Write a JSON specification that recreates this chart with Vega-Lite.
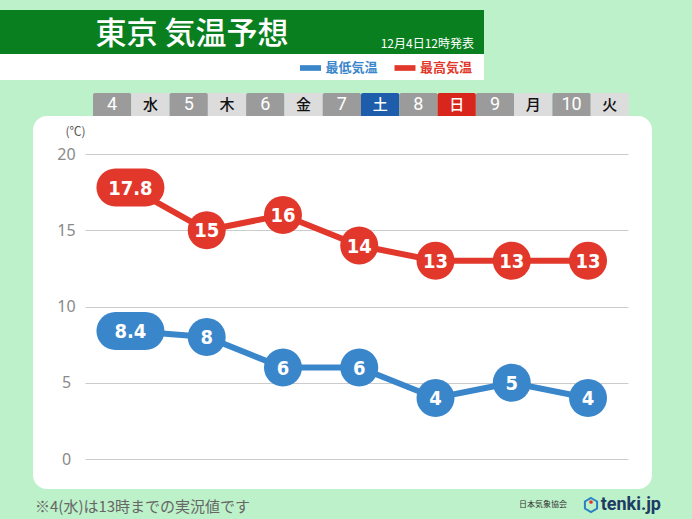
{
  "$schema": "https://vega.github.io/schema/vega-lite/v6.json",
  "background": "#bdf1c9",
  "padding": {"left": 0, "top": 10, "right": 31, "bottom": 0},
  "spacing": 13,
  "config": {"view": {"stroke": null}, "font": "Noto Sans CJK JP"},
  "datasets": {
    "forecast": [
      {"日付": 4, "曜日": "水", "種別": "最高気温", "気温": 17.8, "区分": "実況"},
      {"日付": 5, "曜日": "木", "種別": "最高気温", "気温": 15, "区分": "予想"},
      {"日付": 6, "曜日": "金", "種別": "最高気温", "気温": 16, "区分": "予想"},
      {"日付": 7, "曜日": "土", "種別": "最高気温", "気温": 14, "区分": "予想"},
      {"日付": 8, "曜日": "日", "種別": "最高気温", "気温": 13, "区分": "予想"},
      {"日付": 9, "曜日": "月", "種別": "最高気温", "気温": 13, "区分": "予想"},
      {"日付": 10, "曜日": "火", "種別": "最高気温", "気温": 13, "区分": "予想"},
      {"日付": 4, "曜日": "水", "種別": "最低気温", "気温": 8.4, "区分": "実況"},
      {"日付": 5, "曜日": "木", "種別": "最低気温", "気温": 8, "区分": "予想"},
      {"日付": 6, "曜日": "金", "種別": "最低気温", "気温": 6, "区分": "予想"},
      {"日付": 7, "曜日": "土", "種別": "最低気温", "気温": 6, "区分": "予想"},
      {"日付": 8, "曜日": "日", "種別": "最低気温", "気温": 4, "区分": "予想"},
      {"日付": 9, "曜日": "月", "種別": "最低気温", "気温": 5, "区分": "予想"},
      {"日付": 10, "曜日": "火", "種別": "最低気温", "気温": 4, "区分": "予想"}
    ],
    "days": [
      {"表示": "4", "種類": "日付"}, {"表示": "水", "種類": "平日"},
      {"表示": "5", "種類": "日付"}, {"表示": "木", "種類": "平日"},
      {"表示": "6", "種類": "日付"}, {"表示": "金", "種類": "平日"},
      {"表示": "7", "種類": "日付"}, {"表示": "土", "種類": "土曜"},
      {"表示": "8", "種類": "日付"}, {"表示": "日", "種類": "日曜"},
      {"表示": "9", "種類": "日付"}, {"表示": "月", "種類": "平日"},
      {"表示": "10", "種類": "日付"}, {"表示": "火", "種類": "平日"}
    ],
    "legendItems": [{"種別": "最低気温"}, {"種別": "最高気温"}]
  },
  "vconcat": [
    {
      "spacing": 0,
      "vconcat": [
        {
          "width": 484,
          "height": 44,
          "view": {"fill": "#0a7f20", "stroke": null},
          "layer": [
            {
              "data": {"values": [{"題": "東京 気温予想"}]},
              "mark": {"type": "text", "color": "white", "fontSize": 31, "fontWeight": 500, "align": "center", "baseline": "middle", "dx": -50, "dy": 3},
              "encoding": {"text": {"field": "題"}}
            },
            {
              "data": {"values": [{"発表": "12月4日12時発表"}]},
              "mark": {"type": "text", "color": "white", "fontSize": 12, "align": "right", "baseline": "middle", "dx": 232, "dy": 12},
              "encoding": {"text": {"field": "発表"}}
            }
          ]
        },
        {
          "width": 484,
          "height": 26,
          "view": {"fill": "white", "stroke": null},
          "data": {"name": "legendItems"},
          "encoding": {
            "x": {"field": "種別", "type": "nominal", "sort": null, "axis": null, "scale": {"type": "point", "domain": ["最低気温", "最高気温"], "range": [310.5, 405], "padding": 0}},
            "color": {"field": "種別", "type": "nominal", "legend": null, "scale": {"domain": ["最低気温", "最高気温"], "range": ["#3a86cb", "#e2382c"]}}
          },
          "layer": [
            {"mark": {"type": "point", "shape": "M-1,-0.27H1V0.27H-1Z", "size": 441, "filled": true, "opacity": 1, "yOffset": 1}},
            {"mark": {"type": "text", "align": "left", "baseline": "middle", "dx": 15, "dy": 1, "fontSize": 13, "fontWeight": "bold"}, "encoding": {"text": {"field": "種別"}}}
          ]
        }
      ]
    },
    {
      "spacing": 32,
      "hconcat": [
        {"width": 1, "height": 1, "data": {"values": []}, "mark": "point"},
        {
          "spacing": 0,
          "vconcat": [
            {
              "width": 596,
              "height": 23,
              "data": {"name": "days"},
              "encoding": {
                "x": {"field": "表示", "type": "nominal", "axis": null, "scale": {"type": "band", "domain": ["4", "水", "5", "木", "6", "金", "7", "土", "8", "日", "9", "月", "10", "火"], "range": [60, 596], "paddingInner": 0, "paddingOuter": 0}}
              },
              "layer": [
                {"mark": {"type": "rect", "cornerRadiusTopLeft": 2, "cornerRadiusTopRight": 2}, "encoding": {"fill": {"field": "種類", "type": "nominal", "legend": null, "scale": {"domain": ["日付", "平日", "土曜", "日曜"], "range": ["#9b9b9b", "#dcdcdc", "#1d5dab", "#d8261c"]}}}},
                {"transform": [{"filter": "datum['種類'] === '日付'"}], "mark": {"type": "text", "font": "Roboto", "fontSize": 18, "color": "white", "baseline": "middle"}, "encoding": {"text": {"field": "表示"}}},
                {"transform": [{"filter": "datum['種類'] !== '日付'"}], "mark": {"type": "text", "fontSize": 15, "fontWeight": 500, "baseline": "middle"}, "encoding": {"text": {"field": "表示"}, "color": {"condition": {"test": "datum['種類'] === '平日'", "value": "#111111"}, "value": "white"}}}
              ]
            },
            {
              "width": 619,
              "height": 373,
              "view": {"fill": "white", "stroke": null, "cornerRadius": 14},
              "data": {"name": "forecast"},
              "encoding": {
                "x": {"field": "日付", "type": "ordinal", "axis": null, "scale": {"type": "point", "range": [52, 595], "padding": 0.56, "align": 0.532}},
                "y": {
                  "field": "気温", "type": "quantitative",
                  "scale": {"domain": [0, 20], "range": [343, 38], "nice": false, "zero": false},
                  "axis": {"values": [0, 5, 10, 15, 20], "offset": -52, "labelPadding": 19, "labelAlign": "center", "ticks": false, "domain": false, "grid": true, "gridColor": "#cccccc", "labelFontSize": 16, "labelColor": "#8a8a8a", "labelFont": "Noto Sans", "title": "(℃)", "titleAngle": 0, "titleX": -10, "titleY": 15, "titleAlign": "center", "titleBaseline": "middle", "titleFontSize": 12, "titleFontWeight": "normal", "titleColor": "#555555", "titleFont": "Noto Sans CJK JP"}
                },
                "color": {"field": "種別", "type": "nominal", "legend": null, "scale": {"domain": ["最低気温", "最高気温"], "range": ["#3a86cb", "#e2382c"]}}
              },
              "layer": [
                {"mark": {"type": "line", "strokeWidth": 6}},
                {"mark": {"type": "point", "filled": true, "opacity": 1, "size": 1444}, "encoding": {"shape": {"field": "区分", "type": "nominal", "legend": null, "scale": {"domain": ["実況", "予想"], "range": ["M-0.79,-1L0.79,-1A1,1,0,0,1,0.79,1L-0.79,1A1,1,0,0,1,-0.79,-1Z", "M1,0A1,1,0,1,1,-1,0A1,1,0,1,1,1,0Z"]}}}},
                {"mark": {"type": "text", "fontSize": 20, "fontWeight": "bold", "font": "Liberation Sans Narrow, DejaVu Sans Condensed, Roboto", "baseline": "middle", "dy": 1}, "encoding": {"text": {"field": "気温", "type": "quantitative", "format": ".1~f"}, "color": {"value": "white"}}}
              ]
            },
            {
              "width": 628,
              "height": 30,
              "layer": [
                {"data": {"values": [{"注記": "※4(水)は13時までの実況値です"}]}, "mark": {"type": "text", "align": "left", "baseline": "middle", "dx": -312, "dy": 3, "fontSize": 15, "color": "#666666"}, "encoding": {"text": {"field": "注記"}}},
                {"data": {"values": [{"提供": "日本気象協会"}]}, "mark": {"type": "text", "align": "right", "baseline": "middle", "dx": 220, "dy": 1, "fontSize": 8, "color": "#333333"}, "encoding": {"text": {"field": "提供"}}},
                {"data": {"values": [{"提供": "ロゴ"}]}, "mark": {"type": "point", "shape": "M0,-1L0.87,-0.5L0.87,0.5L0,1L-0.87,0.5L-0.87,-0.5Z", "size": 196, "filled": false, "strokeWidth": 2, "color": "#2b7fc4", "opacity": 1, "xOffset": 244, "yOffset": 1}},
                {"data": {"values": [{"提供": "ロゴ"}]}, "mark": {"type": "point", "shape": "circle", "size": 14, "filled": true, "color": "#e2382c", "opacity": 1, "xOffset": 244, "yOffset": -2}},
                {"data": {"values": [{"提供": "tenki.jp"}]}, "mark": {"type": "text", "align": "right", "baseline": "middle", "dx": 314, "dy": 1, "fontSize": 18, "fontWeight": "bold", "font": "Roboto", "color": "#1d3b63"}, "encoding": {"text": {"field": "提供"}}}
              ]
            }
          ]
        }
      ]
    }
  ]
}
